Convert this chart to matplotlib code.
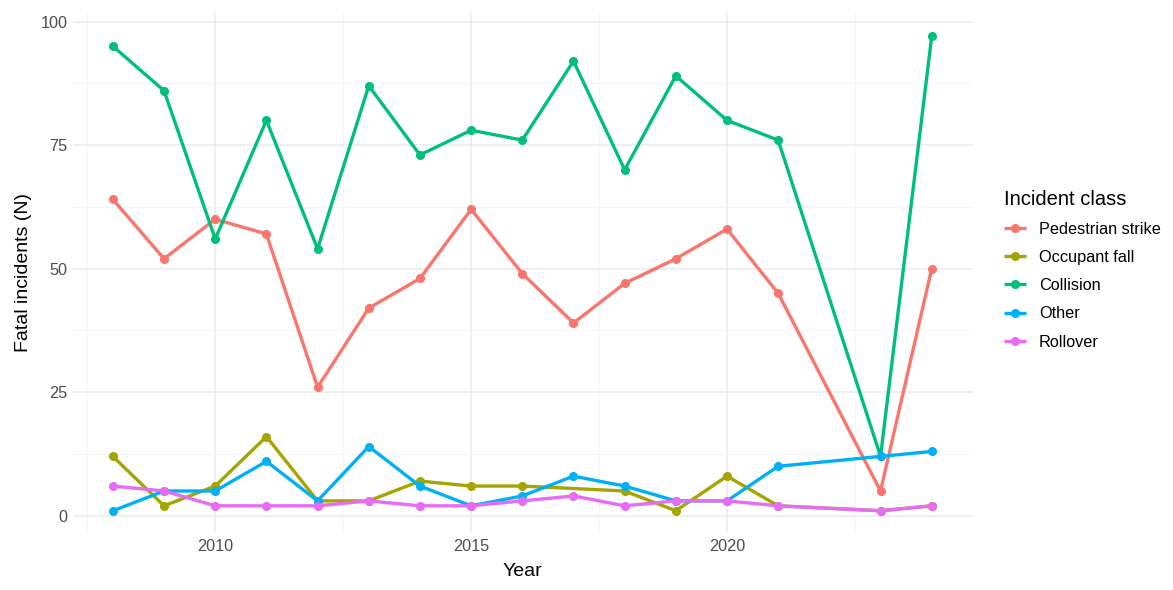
import numpy as np
import matplotlib.pyplot as plt

# data (2022 has no rows; occupant fall also lacks 2017)
years = [2008, 2009, 2010, 2011, 2012, 2013, 2014, 2015, 2016, 2017,
         2018, 2019, 2020, 2021, 2023, 2024]
pedestrian = [64, 52, 60, 57, 26, 42, 48, 62, 49, 39, 47, 52, 58, 45, 5, 50]
occupant = [12, 2, 6, 16, 3, 3, 7, 6, 6, np.nan, 5, 1, 8, 2, 1, 2]
collision = [95, 86, 56, 80, 54, 87, 73, 78, 76, 92, 70, 89, 80, 76, 12, 97]
other = [1, 5, 5, 11, 3, 14, 6, 2, 4, 8, 6, 3, 3, 10, 12, 13]
rollover = [6, 5, 2, 2, 2, 3, 2, 2, 3, 4, 2, 3, 3, 2, 1, 2]

classes = ["Pedestrian strike", "Occupant fall", "Collision", "Other", "Rollover"]
series = [pedestrian, occupant, collision, other, rollover]
colors = ["#F8766D", "#A3A500", "#00BF7D", "#00B0F6", "#E76BF3"]

plt.rcParams['font.family'] = ['Liberation Sans', 'DejaVu Sans']

fig = plt.figure(figsize=(11.73, 5.90), dpi=100)
ax = fig.add_axes([0.0622, 0.0966, 0.767, 0.882])

for name, vals, col in zip(classes, series, colors):
    x = np.array(years, dtype=float)
    y = np.array(vals, dtype=float)
    keep = ~np.isnan(y)
    ax.plot(x[keep], y[keep], color=col, lw=2.4, marker='o', ms=5.5,
            label=name, solid_capstyle='butt')

ax.set_xlim(2007.22, 2024.8)
ax.set_ylim(-3.5, 101.8)
ax.set_xticks([2010, 2015, 2020])
ax.set_yticks([0, 25, 50, 75, 100])
ax.set_xticks([2007.5, 2012.5, 2017.5, 2022.5], minor=True)
ax.set_yticks([12.5, 37.5, 62.5, 87.5], minor=True)

ax.grid(which='major', color='#EBEBEB', lw=1.1)
ax.grid(which='minor', color='#F4F4F4', lw=0.6)
ax.set_axisbelow(True)
for s in ax.spines.values():
    s.set_visible(False)
ax.tick_params(which='both', length=0)
ax.tick_params(labelsize=11.7, colors='#4D4D4D', pad=4)

ax.set_xlabel("Year", fontsize=14, color='black', labelpad=7)
ax.set_ylabel("Fatal incidents (N)", fontsize=14, color='black', labelpad=6)

leg = ax.legend(title="Incident class", loc='upper left',
                bbox_to_anchor=(1004 / 1173, 1 - 190 / 590),
                bbox_transform=fig.transFigure, frameon=False,
                borderpad=0, borderaxespad=0,
                fontsize=11.7, title_fontsize=14.5, handlelength=1.35,
                handletextpad=0.8, labelspacing=0.82, alignment='left')
leg._legend_box.sep = 9

fig.savefig("out.png", dpi=100)
